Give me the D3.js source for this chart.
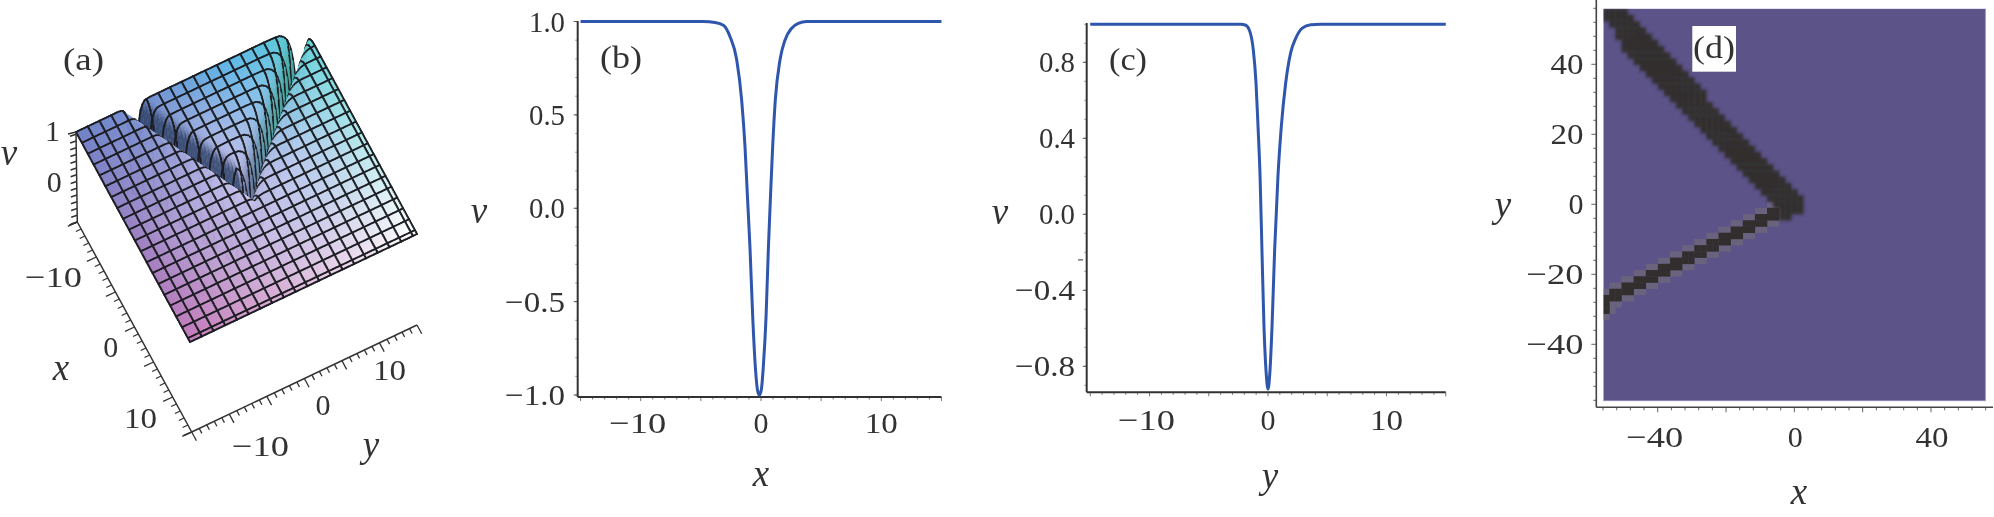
<!DOCTYPE html>
<html><head><meta charset="utf-8">
<style>html,body{margin:0;padding:0;background:#fff;overflow:hidden}svg{display:block}
text{font-family:"Liberation Serif",serif;fill:#333}</style>
<script src="https://cdn.jsdelivr.net/npm/d3@7"></script></head><body>
<script>
// Panel (b): v against x
const bX=[-15,-4.79,-3.82,-3.13,-2.58,-2.02,-1.61,-1.33,-1.14,-0.91,-0.69,-0.47,-0.30,-0.14,0.03,0.19,0.42,0.61,0.80,0.97,1.19,1.58,1.99,2.55,3.10,3.80,15];
const bV=[1,1,0.995,0.98,0.92,0.795,0.58,0.33,0.08,-0.22,-0.58,-0.85,-0.97,-1,-0.97,-0.85,-0.58,-0.22,0.08,0.33,0.58,0.795,0.90,0.964,0.99,1,1];
// Panel (c): v against y
const cX=[-15,-2.30,-1.88,-1.52,-1.24,-1.01,-0.84,-0.67,-0.51,-0.34,-0.17,0,0.17,0.34,0.56,0.84,1.12,1.49,1.91,2.33,2.89,3.60,4.44,15];
const cV=[1,1,0.995,0.96,0.865,0.69,0.46,0.2,-0.19,-0.59,-0.82,-0.92,-0.82,-0.59,-0.19,0.2,0.46,0.69,0.85,0.925,0.98,0.998,1,1];
const bYTicks=[1,0.5,0,-0.5,-1], bYLabels=["1.0","0.5","0.0","−0.5","−1.0"];
const cYTicks=[0.8,0.4,0,-0.4,-0.8], cYLabels=["0.8","0.4","0.0","−0.4","−0.8"];
const lineXTicks=[-10,0,10], lineXLabels=["−10","0","10"];
// Panel (d): 63x63 density cells; dark rows in each column, counted from the top
const upperTop=[0,0,0,0,1,2,3,4,5,6,7,8,9,10,11,12,13,15,16,17,18,19,20,21,22,23,24,25,26,27,28,29,30];
const upperBottom=[1,2,4,6,7,8,9,10,11,12,13,14,15,16,17,18,19,20,21,22,23,24,25,26,27,28,29,30,31,33,33,32,32];
const lowerTop=[46,45,45,44,44,43,43,42,42,41,41,40,40,39,39,38,38,37,37,36,36,35,35,34,34,33,33,32,32];
const lowerBottom=[48,46,46,45,45,44,44,43,43,42,42,41,41,40,40,39,39,38,38,37,37,36,36,35,35,34,34,33,33];
const dTicks=[-40,-20,0,20,40], dLabels=["−40","−20","0","20","40"];
const dXTicks=[-40,0,40], dXLabels=["−40","0","40"];
// Panel (a): mesh lines and surface colours
const gridLines=[-15,-13.45,-11.9,-10.35,-8.8,-7.25,-5.7,-4.15,-2.6,-1.05,0.5,2.05,3.6,5.15,6.7,8.25,9.8,11.35,12.9,14.45,15];
const leftEdgeColors=["#6d7fc6","#6f8fd0","#58b4e6","#58d0d4"];
const frontEdgeColors=["#c277b8","#ffffff"];

const W=1994,H=517,FS=30;
const svg=d3.select("body").append("svg").attr("width",W).attr("height",H);
const defs=svg.append("defs");
const blur=(id,s)=>defs.append("filter").attr("id",id).attr("filterUnits","userSpaceOnUse").attr("x",0).attr("y",0).attr("width",W).attr("height",H)
  .append("feGaussianBlur").attr("stdDeviation",s);
blur("soft",0.55);blur("softer",1.5);
const root=svg.append("g").attr("filter","url(#soft)");

function labelWidth(s){let w=0;for(const ch of s){w+=ch==="−"?0.8:ch==="."?0.2:0.5;}if(!s.includes(".")&&s.length>1)w+=0.1;return w*FS;}
function num(g,s,x,y,anchor){
  return g.append("text").attr("x",x).attr("y",y).attr("text-anchor",anchor).attr("font-size",FS)
    .attr("textLength",labelWidth(s)).attr("lengthAdjust","spacingAndGlyphs").text(s);
}
function ital(g,s,x,y,size){return g.append("text").attr("x",x).attr("y",y).attr("text-anchor","middle").attr("font-style","italic").attr("font-size",size||37).text(s);}
function tag(g,s,x,y,w){return g.append("text").attr("x",x).attr("y",y).attr("font-size",FS+1).attr("textLength",w).attr("lengthAdjust","spacingAndGlyphs").text(s);}
function seg(g,x1,y1,x2,y2,c,w){g.append("line").attr("x1",x1).attr("y1",y1).attr("x2",x2).attr("y2",y2).attr("stroke",c||"#333").attr("stroke-width",w||1.5);}

// ---------- line panels
function linePanel(o){
  const g=root.append("g");
  const x=d3.scaleLinear().domain([-10,10]).range(o.xr);
  const y=d3.scaleLinear().domain(o.yd).range(o.yr);
  d3.range(-15,15.01,1).forEach(t=>seg(g,x(t),o.axisY,x(t),o.axisY+(t%5===0?4:2.5),"#777",1));
  d3.range(o.minor[0],o.minor[1]+.001,o.minor[2]).forEach(t=>seg(g,o.axisX-2.5,y(t),o.axisX,y(t),"#999",1));
  o.yT.forEach((t,i)=>{seg(g,o.axisX-4,y(t),o.axisX,y(t),"#555",1);num(g,o.yL[i],o.labelX,y(t)+10,"end");});
  seg(g,o.axisX,o.axisTop,o.axisX,o.axisY,"#333",2);
  seg(g,o.axisX,o.axisY,x(15),o.axisY,"#333",2);
  lineXTicks.forEach((t,i)=>{num(g,lineXLabels[i],x(t)+(t<0?-3:0),o.tickBase,"middle");});
  const ln=d3.line().x(d=>x(d[0])).y(d=>y(d[1])).curve(d3.curveMonotoneX);
  g.append("path").attr("d",ln(o.xs.map((v,i)=>[v,o.vs[i]]))).attr("fill","none").attr("stroke","#2f56ac").attr("stroke-width",3);
  return {g,x,y};
}
const pb=linePanel({xs:bX,vs:bV,xr:[640.7,881.3],yd:[-1,1],yr:[395,21.5],axisX:577.7,axisY:397,axisTop:21,minor:[-1,1,0.1],yT:bYTicks,yL:bYLabels,labelX:565,tickBase:432.5});
ital(pb.g,"v",479,223);ital(pb.g,"x",761,486);tag(pb.g,"(b)",600,68,42);
const pc=linePanel({xs:cX,vs:cV,xr:[1149.5,1386.5],yd:[-0.8,0.8],yr:[366.3,62.3],axisX:1086.7,axisY:392.3,axisTop:23,minor:[-0.9,1,0.1],yT:cYTicks,yL:cYLabels,labelX:1075,tickBase:430});
seg(pc.g,1078,pc.y(-0.24),1083,pc.y(-0.24),"#333",1);
ital(pc.g,"v",1000,224);ital(pc.g,"y",1270,488);tag(pc.g,"(c)",1109,70,38);

// ---------- panel (d)
(function(){
  const g=root.append("g");
  const rect={x0:1603.3,x1:1985.3,y0:8.7,y1:400.7};
  const xs=d3.scaleLinear().domain([-40,40]).range([1657.7,1931]);
  const ys=d3.scaleLinear().domain([-40,40]).range([344.3,64.3]);
  const col=d3.scaleBand().domain(d3.range(63)).range([rect.x0,rect.x1]);
  const row=d3.scaleBand().domain(d3.range(63)).range([rect.y0,rect.y1]);
  g.append("rect").attr("x",rect.x0).attr("y",rect.y0).attr("width",rect.x1-rect.x0).attr("height",rect.y1-rect.y0).attr("fill","#5b5288").attr("stroke","#8d89b8").attr("stroke-width",0.8);
  const bands=(tops,bots)=>{const s=new Set();tops.forEach((t,c)=>{for(let r=t;r<=bots[c];r++)s.add(c*100+r);});return s;};
  const upper=bands(upperTop,upperBottom),lower=bands(lowerTop,lowerBottom);
  const haloOf=(set)=>{const halo=new Set();
    set.forEach(k=>{const c=Math.floor(k/100),r=k%100;
      [[1,0],[-1,0],[0,1],[0,-1]].forEach(([a,b])=>{const n=(c+a)*100+(r+b);
        if(c+a>=0&&c+a<63&&r+b>=0&&r+b<63&&!set.has(n))halo.add(n);});});return halo;};
  const cell=(host,set,fill)=>host.append("g").selectAll("rect").data([...set]).join("rect")
    .attr("x",k=>col(Math.floor(k/100))).attr("y",k=>row(k%100))
    .attr("width",col.bandwidth()+.3).attr("height",row.bandwidth()+.3).attr("fill",fill);
  cell(g,haloOf(lower),"#6b637e");cell(g,lower,"#332e2f");
  const smooth=g.append("g").attr("filter","url(#softer)");
  cell(smooth,upper,"#332e2f");
  g.append("rect").attr("x",rect.x0-6).attr("y",0).attr("width",6).attr("height",rect.y1).attr("fill","#fff");
  g.append("rect").attr("x",rect.x0-6).attr("y",0).attr("width",rect.x1-rect.x0+6).attr("height",rect.y0).attr("fill","#fff");
  d3.range(-56,56.1,4).forEach(t=>{
    const mj=t%20===0;
    seg(g,xs(t),407.3,xs(t),407.3+(mj?5:3),"#666",1);
    seg(g,1596.3-(mj?5:3),ys(t),1596.3,ys(t),"#666",1);
  });
  seg(g,1596.3,0,1596.3,407.3,"#444",1.6);
  seg(g,1596.3,407.3,1993,407.3,"#444",1.6);
  dTicks.forEach((t,i)=>num(g,dLabels[i],1583.5,ys(t)+10,"end"));
  dXTicks.forEach((t,i)=>num(g,dXLabels[i],xs(t)+(t<0?-3:1),446.5,"middle"));
  ital(g,"y",1503,217);ital(g,"x",1799,504);
  g.append("rect").attr("x",1692.3).attr("y",26).attr("width",43.7).attr("height",45.7).attr("fill","#fff");
  tag(g,"(d)",1693,58,42);
})();

// ---------- panel (a)
(function(){
  const g=root.append("g");
  const ax=d3.scaleLinear().domain([-15,15]).range([0,114]);
  const ay=d3.scaleLinear().domain([-15,15]).range([0,227]);
  const cx=d3.scaleLinear().domain([-15,15]).range([0,210]);
  const cy=d3.scaleLinear().domain([-15,15]).range([0,-108]);
  const ev=d3.scaleLinear().domain([1,-1]).range([0,90]);
  const P=(x,y,v)=>[76+ax(x)+ay(y),132+cx(x)+cy(y)+ev(v)];
  const profile=d3.scaleLinear().domain(bX).range(bV).clamp(true);
  // height comes from the profile read in (b), laid along the V read in (d)
  const h=(x,y)=>{
    const s=x+Math.max(y,-2*y);
    return profile(s>0?s*(1+0.3*Math.min(1,Math.max(0,y/3))):s);
  };
  const samples=[];
  gridLines.forEach((t,i)=>{
    if(i===gridLines.length-1){samples.push({t,line:true});return;}
    const next=gridLines[i+1],n=(next-t)<1?2:6;
    for(let k=0;k<n;k++)samples.push({t:t+(next-t)*k/n,line:k===0});
  });
  const nS=samples.length;
  const tn=d3.scaleLinear().domain([-15,15]).range([0,1]);
  const leftMix=d3.piecewise(d3.interpolateRgb,leftEdgeColors);
  const base=(x,y)=>{
    const u=tn(x),w=tn(y);
    const far=leftMix(w);
    const near=d3.interpolateRgb(frontEdgeColors[0],frontEdgeColors[1])(w);
    const c=d3.interpolateRgb(far,near)(u);
    return d3.interpolateRgb(c,"#d0c8f2")(0.75*(1-Math.abs(2*u-1))*(1-Math.abs(2*w-1)));
  };
  const L=[-0.42,0.42,0.80];
  const shade=(x,y,c)=>{
    const e=.5,dx=(h(x+e,y)-h(x-e,y))/(2*e),dy=(h(x,y+e)-h(x,y-e))/(2*e);
    const nn=Math.hypot(dx,dy,1),f=(-dx*L[0]-dy*L[1]+L[2])/nn,r=f/L[2];
    if(r<1){
      const deep=d3.interpolateRgb("#2c3f66","#2f8a70")(Math.max(0,Math.min(1,(y-2)/6)));
      return d3.interpolateRgb(c,deep)(Math.min(.85,(1-r)*1.15));
    }
    return d3.interpolateRgb(c,"#ffffff")(Math.min(.9,(r-1)*1.6));
  };
  const items=[];
  const line=d3.line();
  for(let i=0;i<nS-1;i++){
    for(let j=nS-2;j>=0;j--){
      const x0=samples[i].t,x1=samples[i+1].t,y0=samples[j].t,y1=samples[j+1].t;
      const a=P(x0,y0,h(x0,y0)),b=P(x1,y0,h(x1,y0)),c=P(x1,y1,h(x1,y1)),d=P(x0,y1,h(x0,y1));
      const xm=(x0+x1)/2,ym=(y0+y1)/2;
      items.push({d:line([a,b,c,d])+"Z",fill:shade(xm,ym,base(xm,ym))});
      if(samples[i].line)items.push({d:line([d,a])});
      if(samples[j+1].line)items.push({d:line([d,c])});
      if(i===nS-2)items.push({d:line([b,c])});
      if(j===0)items.push({d:line([a,b])});
      if(samples[j].line&&j>0)items.push({d:line([a,b])});
    }
  }
  g.append("g").selectAll("path").data(items).join("path")
    .attr("d",d=>d.d)
    .attr("fill",d=>d.fill||"none")
    .attr("stroke",d=>d.fill||"#1b1e22")
    .attr("stroke-width",d=>d.fill?0.5:1.9)
    .attr("stroke-linecap","round");

  // axes of the box
  const vx=d3.scaleLinear().domain([1,-1]).range([76,77.3]);
  const vy=d3.scaleLinear().domain([1,-1]).range([132,222]);
  const xx=d3.scaleLinear().domain([-15,15]).range([77.3,191.7]);
  const xy=d3.scaleLinear().domain([-15,15]).range([222,432]);
  const yx=d3.scaleLinear().domain([-15,15]).range([191.7,417]);
  const yy=d3.scaleLinear().domain([-15,15]).range([432,325]);
  seg(g,vx(1),vy(1),vx(-1),vy(-1));
  d3.range(-1,1.01,0.15).forEach(t=>seg(g,vx(t),vy(t),vx(t)-6,vy(t)+2));
  seg(g,vx(1),vy(1),vx(1)-8,vy(1)+2);seg(g,vx(-1),vy(-1),vx(-1)-8,vy(-1)+3);
  seg(g,xx(-15),xy(-15),xx(15),xy(15));
  d3.range(-15,15.1,1).forEach(t=>{const m=t%5===0?1.35:.75;seg(g,xx(t),xy(t),xx(t)-7*m,xy(t)+3.3*m,"#333",1.3);});
  seg(g,yx(-15),yy(-15),yx(15),yy(15));
  d3.range(-15,15.1,1).forEach(t=>{const m=t%5===0?1.25:.7;seg(g,yx(t),yy(t),yx(t)+3.8*m,yy(t)+7*m,"#333",1.3);});
  seg(g,xx(15),xy(15),xx(15)-8,xy(15)+3.5);
  num(g,"1",60,141,"end");num(g,"0",61.7,192,"end");
  num(g,"−10",82,287,"end");num(g,"0",110.7,357,"middle");num(g,"10",157,428,"end");
  num(g,"−10",289,456,"end");num(g,"0",323,415,"middle");num(g,"10",406,380,"end");
  ital(g,"v",9,165);ital(g,"x",61,380);ital(g,"y",371,457);
  tag(g,"(a)",63,70,41);
})();
</script></body></html>
